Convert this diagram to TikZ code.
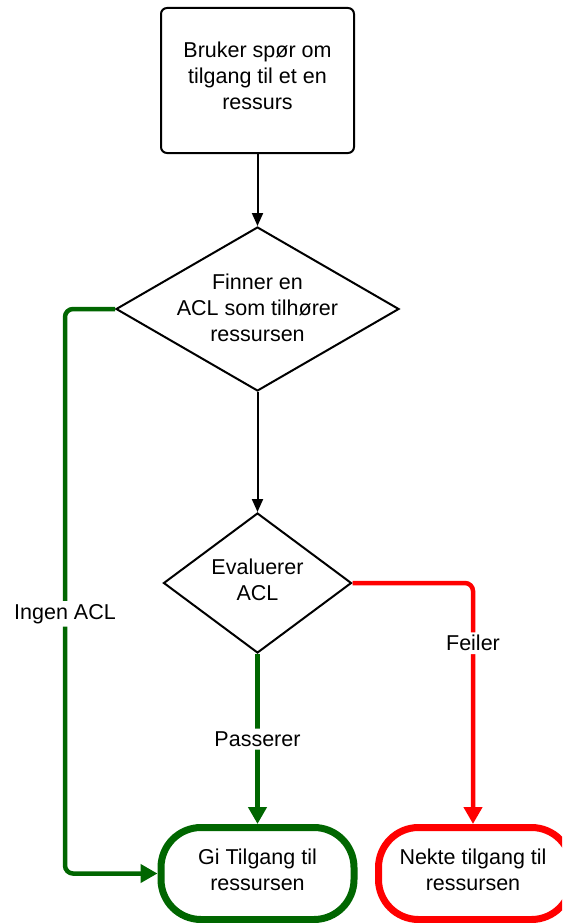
\documentclass[tikz,border=0pt]{standalone}
\usepackage{fontspec}
\setmainfont{Liberation Sans}
\usetikzlibrary{shapes.geometric,arrows.meta}
\definecolor{okgreen}{RGB}{0,102,0}
\definecolor{failred}{RGB}{255,0,0}
\tikzset{
  txt/.style={align=center,font=\fontsize{21.5}{26}\selectfont,inner sep=0pt},
  startbox/.style={draw,line width=2pt,rounded corners=6pt,minimum width=193pt,minimum height=145pt,inner sep=0pt},
  decision/.style={draw,diamond,line width=2pt,inner sep=0pt},
  terminal/.style={draw,line width=7pt,rounded corners=40pt,minimum width=193pt,minimum height=92pt,inner sep=0pt},
  flow/.style={line width=2pt,-{Triangle[length=13pt,width=11pt]}},
  goline/.style={line width=4.5pt,okgreen,rounded corners=8pt,-{Triangle[length=17pt,width=18pt]}},
  noline/.style={line width=4.5pt,failred,rounded corners=8pt,-{Triangle[length=17pt,width=18pt]}},
  tag/.style={txt,fill=white,text=black,inner sep=3pt}
}
\begin{document}
\begin{tikzpicture}[x=1pt,y=-1pt]
\useasboundingbox (0,0) rectangle (562,923);
\clip (0,0) rectangle (562,923);
% boxes
\node[startbox] (ask) at (257.5,80.5) {};
\node[txt] (askt) at (257.5,76) {Bruker spør om\\tilgang til et en\\ressurs};
\node[decision,minimum width=283pt,minimum height=164pt] (find) at (257.5,309) {};
\node[txt] (findt) at (257.5,308) {Finner en\\ACL som tilhører\\ressursen};
\node[decision,minimum width=188pt,minimum height=140pt] (eval) at (257.5,583) {};
\node[txt] (evalt) at (257.5,580) {Evaluerer\\ACL};
\node[terminal,draw=okgreen] (grant) at (257.5,873.5) {};
\node[txt] (grantt) at (257.5,870) {Gi Tilgang til\\ressursen};
\node[terminal,draw=failred] (deny) at (475,873.5) {};
\node[txt] (denyt) at (473,870) {Nekte tilgang til\\ressursen};
% connectors
\draw[flow] (ask.south) -- (find.north);
\draw[flow] (find.south) -- (eval.north);
\draw[goline] (find.west) -- ++(-50,0) |- node[tag,pos=0.27] {Ingen ACL} (grant.west);
\draw[goline] (eval.south) -- node[tag,pos=0.5] {Passerer} (grant.north);
\draw[noline] (eval.east) -| node[tag,pos=0.625] {Feiler} ([xshift=-2pt]deny.north);
\end{tikzpicture}
\end{document}
